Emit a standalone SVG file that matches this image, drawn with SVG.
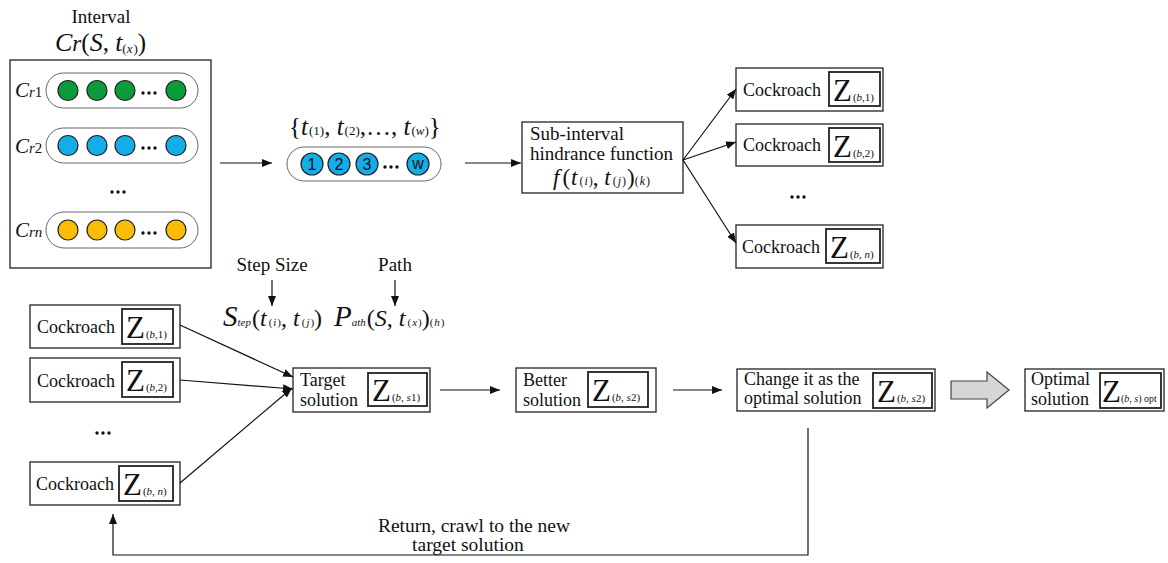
<svg xmlns="http://www.w3.org/2000/svg" width="1168" height="563" viewBox="0 0 1168 563">
  <defs>
    <marker id="arrow" viewBox="0 0 10 8" refX="10" refY="4" markerWidth="10" markerHeight="8" markerUnits="userSpaceOnUse" orient="auto">
      <path d="M0,0 L10,4 L0,8 Z" fill="#111"/>
    </marker>
  </defs>
  <style>
    text { font-family: "Liberation Serif", "Times New Roman", "DejaVu Serif", serif; fill: #111; }
    .lbl { font-size: 18px; }
    .lbl19 { font-size: 19px; }
    .lbl20 { font-size: 19.5px; }
    .box { fill: #fff; stroke: #333; stroke-width: 1.4; }
    .zbox { fill: #fff; stroke: #222; stroke-width: 1.8; }
    .pill { fill: #fff; stroke: #666; stroke-width: 1; }
    .dot { fill: #111; }
    .g { fill: #0a9c3a; stroke: #222; stroke-width: 1.2; }
    .b { fill: #13aeea; stroke: #222; stroke-width: 1.2; }
    .o { fill: #fbbc05; stroke: #222; stroke-width: 1.2; }
    .num { font-family: "Liberation Sans", Arial, sans-serif; font-size: 16px; text-anchor: middle; }
    .z { font-size: 31px; }
    .sub { font-size: 11px; }
    .it { font-style: italic; }
    .edge { fill: none; stroke: #111; stroke-width: 1.2; }
  </style>

  <!-- Interval with the cockroach rows -->
  <g id="interval">
    <text class="lbl19" x="101" y="23" text-anchor="middle">Interval</text>
    <text x="55" y="51" font-size="26"><tspan class="it">C</tspan><tspan class="it" font-size="23">r</tspan><tspan font-size="25">(</tspan><tspan class="it">S</tspan><tspan font-size="25">, </tspan><tspan class="it">t</tspan><tspan font-size="13" dy="2">(</tspan><tspan class="it" font-size="13">x</tspan><tspan font-size="13" dx="1">)</tspan><tspan font-size="25" dy="-2">)</tspan></text>
    <rect class="box" x="10" y="60" width="201" height="208"/>

    <text x="15" y="97"><tspan class="it" font-size="21">C</tspan><tspan class="it" font-size="15">r</tspan><tspan font-size="15">1</tspan></text>
    <rect class="pill" x="46" y="73" width="152" height="35" rx="17.5"/>
    <circle class="g" cx="68" cy="90.5" r="10"/>
    <circle class="g" cx="97" cy="90.5" r="10"/>
    <circle class="g" cx="125" cy="90.5" r="10"/>
    <circle class="dot" cx="143" cy="93" r="1.7"/><circle class="dot" cx="149" cy="93" r="1.7"/><circle class="dot" cx="155" cy="93" r="1.7"/>
    <circle class="g" cx="176" cy="90.5" r="10"/>

    <text x="15" y="153"><tspan class="it" font-size="21">C</tspan><tspan class="it" font-size="15">r</tspan><tspan font-size="15">2</tspan></text>
    <rect class="pill" x="46" y="128" width="152" height="35" rx="17.5"/>
    <circle class="b" cx="68" cy="145.5" r="10"/>
    <circle class="b" cx="97" cy="145.5" r="10"/>
    <circle class="b" cx="125" cy="145.5" r="10"/>
    <circle class="dot" cx="143" cy="148" r="1.7"/><circle class="dot" cx="149" cy="148" r="1.7"/><circle class="dot" cx="155" cy="148" r="1.7"/>
    <circle class="b" cx="176" cy="145.5" r="10"/>

    <circle class="dot" cx="112" cy="192" r="1.7"/><circle class="dot" cx="118" cy="192" r="1.7"/><circle class="dot" cx="124" cy="192" r="1.7"/>

    <text x="15" y="237"><tspan class="it" font-size="21">C</tspan><tspan class="it" font-size="15">rn</tspan></text>
    <rect class="pill" x="46" y="212" width="152" height="36" rx="18"/>
    <circle class="o" cx="68" cy="230" r="10"/>
    <circle class="o" cx="97" cy="230" r="10"/>
    <circle class="o" cx="125" cy="230" r="10"/>
    <circle class="dot" cx="143" cy="233" r="1.7"/><circle class="dot" cx="149" cy="233" r="1.7"/><circle class="dot" cx="155" cy="233" r="1.7"/>
    <circle class="o" cx="176" cy="230" r="10"/>
  </g>

  <!-- Ordered sub-interval set -->
  <g id="subset">
    <text x="289" y="135" font-size="25"><tspan>{</tspan><tspan class="it">t</tspan><tspan font-size="13" dx="1">(1)</tspan><tspan>, </tspan><tspan class="it">t</tspan><tspan font-size="13" dx="1">(2)</tspan><tspan>,…, </tspan><tspan class="it">t</tspan><tspan font-size="13" dx="1">(</tspan><tspan class="it" font-size="13">w</tspan><tspan font-size="13">)</tspan><tspan>}</tspan></text>
    <rect class="pill" x="287" y="147" width="154" height="34" rx="17"/>
    <circle class="b" cx="312" cy="164" r="11"/><text class="num" x="312" y="170">1</text>
    <circle class="b" cx="339" cy="164" r="11"/><text class="num" x="339" y="170">2</text>
    <circle class="b" cx="367" cy="164" r="11"/><text class="num" x="367" y="170">3</text>
    <circle class="dot" cx="385" cy="167" r="1.7"/><circle class="dot" cx="391" cy="167" r="1.7"/><circle class="dot" cx="397" cy="167" r="1.7"/>
    <circle class="b" cx="418" cy="164" r="11"/><text class="num" x="418" y="169">w</text>
  </g>

  <!-- Hindrance function -->
  <g id="hindrance">
    <rect class="box" x="522" y="122" width="161" height="71"/>
    <text class="lbl19" x="530" y="140">Sub-interval</text>
    <text class="lbl19" x="530" y="160">hindrance function</text>
    <text x="553" y="185" font-size="23"><tspan class="it">f</tspan><tspan dx="3">(</tspan><tspan class="it" dx="1">t</tspan><tspan font-size="12" dx="2">(</tspan><tspan class="it" font-size="12" dx="1">i</tspan><tspan font-size="12" dx="1">)</tspan><tspan>, </tspan><tspan class="it">t</tspan><tspan font-size="12" dx="2">(</tspan><tspan class="it" font-size="12" dx="1">j</tspan><tspan font-size="12" dx="1">)</tspan><tspan dx="1">)</tspan><tspan font-size="12">(</tspan><tspan class="it" font-size="12" dx="1">k</tspan><tspan font-size="12" dx="1">)</tspan></text>
  </g>

  <!-- Cockroaches spawned by the hindrance function -->
  <g id="cockroach-r1">
    <rect class="box" x="736" y="68" width="147" height="43"/>
    <text class="lbl" x="743" y="96">Cockroach</text>
    <rect class="zbox" x="829" y="72" width="51" height="34"/>
    <text x="833" y="101"><tspan class="z">Z</tspan><tspan class="sub" dx="1">(</tspan><tspan class="sub it">b</tspan><tspan class="sub">,1)</tspan></text>
  </g>
  <g id="cockroach-r2">
    <rect class="box" x="736" y="124" width="147" height="42"/>
    <text class="lbl" x="743" y="151">Cockroach</text>
    <rect class="zbox" x="829" y="128" width="51" height="34"/>
    <text x="833" y="157"><tspan class="z">Z</tspan><tspan class="sub" dx="1">(</tspan><tspan class="sub it">b</tspan><tspan class="sub">,2)</tspan></text>
  </g>
  <g id="ellipsis-r">
    <circle class="dot" cx="792" cy="197" r="1.7"/><circle class="dot" cx="798" cy="197" r="1.7"/><circle class="dot" cx="804" cy="197" r="1.7"/>
  </g>
  <g id="cockroach-rn">
    <rect class="box" x="736" y="225" width="147" height="43"/>
    <text class="lbl" x="742" y="253">Cockroach</text>
    <rect class="zbox" x="826" y="229" width="54" height="34"/>
    <text x="830" y="258"><tspan class="z">Z</tspan><tspan class="sub" dx="1">(</tspan><tspan class="sub it">b</tspan><tspan class="sub">, </tspan><tspan class="sub it">n</tspan><tspan class="sub">)</tspan></text>
  </g>

  <!-- Step size and path labels -->
  <g id="step">
    <text class="lbl19" x="272" y="271" text-anchor="middle">Step Size</text>
    <text x="223" y="326" font-size="24"><tspan class="it" font-size="29">S</tspan><tspan class="it" font-size="11">tep</tspan><tspan dx="1">(</tspan><tspan class="it">t</tspan><tspan font-size="11" dx="2">(</tspan><tspan class="it" font-size="11" dx="1">i</tspan><tspan font-size="11" dx="1">)</tspan><tspan>, </tspan><tspan class="it">t</tspan><tspan font-size="11" dx="2">(</tspan><tspan class="it" font-size="11" dx="1">j</tspan><tspan font-size="11" dx="1">)</tspan><tspan>)</tspan></text>
  </g>
  <g id="path">
    <text class="lbl19" x="395" y="271" text-anchor="middle">Path</text>
    <text x="334" y="326" font-size="24"><tspan class="it" font-size="29">P</tspan><tspan class="it" font-size="11">ath</tspan><tspan dx="1">(</tspan><tspan class="it">S</tspan><tspan>, </tspan><tspan class="it">t</tspan><tspan font-size="11" dx="2">(</tspan><tspan class="it" font-size="11" dx="1">x</tspan><tspan font-size="11" dx="1">)</tspan><tspan>)</tspan><tspan font-size="11">(</tspan><tspan class="it" font-size="11" dx="1">h</tspan><tspan font-size="11" dx="1">)</tspan></text>
  </g>

  <!-- Cockroaches heading to the target -->
  <g id="cockroach-l1">
    <rect class="box" x="30" y="305" width="150" height="43"/>
    <text class="lbl" x="37" y="333">Cockroach</text>
    <rect class="zbox" x="122" y="309" width="51" height="35"/>
    <text x="126" y="338"><tspan class="z">Z</tspan><tspan class="sub" dx="1">(</tspan><tspan class="sub it">b</tspan><tspan class="sub">,1)</tspan></text>
  </g>
  <g id="cockroach-l2">
    <rect class="box" x="30" y="358" width="150" height="44"/>
    <text class="lbl" x="37" y="387">Cockroach</text>
    <rect class="zbox" x="122" y="362" width="51" height="35"/>
    <text x="126" y="391"><tspan class="z">Z</tspan><tspan class="sub" dx="1">(</tspan><tspan class="sub it">b</tspan><tspan class="sub">,2)</tspan></text>
  </g>
  <g id="ellipsis-l">
    <circle class="dot" cx="97" cy="433" r="1.7"/><circle class="dot" cx="103" cy="433" r="1.7"/><circle class="dot" cx="109" cy="433" r="1.7"/>
  </g>
  <g id="cockroach-ln">
    <rect class="box" x="30" y="462" width="150" height="43"/>
    <text class="lbl" x="36" y="490">Cockroach</text>
    <rect class="zbox" x="119" y="466" width="54" height="35"/>
    <text x="123" y="495"><tspan class="z">Z</tspan><tspan class="sub" dx="1">(</tspan><tspan class="sub it">b</tspan><tspan class="sub">, </tspan><tspan class="sub it">n</tspan><tspan class="sub">)</tspan></text>
  </g>

  <!-- Solution chain -->
  <g id="target">
    <rect class="box" x="293" y="368" width="137" height="44"/>
    <text class="lbl" x="300" y="386">Target</text>
    <text class="lbl" x="300" y="406">solution</text>
    <rect class="zbox" x="368" y="373" width="59" height="33"/>
    <text x="372" y="401"><tspan class="z">Z</tspan><tspan class="sub" dx="1">(</tspan><tspan class="sub it">b</tspan><tspan class="sub">, </tspan><tspan class="sub it">s</tspan><tspan class="sub">1)</tspan></text>
  </g>
  <g id="better">
    <rect class="box" x="516" y="368" width="140" height="44"/>
    <text class="lbl" x="523" y="386">Better</text>
    <text class="lbl" x="523" y="406">solution</text>
    <rect class="zbox" x="588" y="372" width="60" height="35"/>
    <text x="592" y="401"><tspan class="z">Z</tspan><tspan class="sub" dx="1">(</tspan><tspan class="sub it">b</tspan><tspan class="sub">, </tspan><tspan class="sub it">s</tspan><tspan class="sub">2)</tspan></text>
  </g>
  <g id="change">
    <rect class="box" x="737" y="369" width="198" height="42"/>
    <text class="lbl" x="744" y="385">Change it as the</text>
    <text class="lbl" x="744" y="404">optimal solution</text>
    <rect class="zbox" x="873" y="373" width="59" height="35"/>
    <text x="877" y="402"><tspan class="z">Z</tspan><tspan class="sub" dx="1">(</tspan><tspan class="sub it">b</tspan><tspan class="sub">, </tspan><tspan class="sub it">s</tspan><tspan class="sub">2)</tspan></text>
  </g>
  <g id="promote">
    <polygon points="951,381 987,381 987,372 1009,390 987,408 987,399 951,399" fill="#d6d6d6" stroke="#444" stroke-width="1.2"/>
  </g>
  <g id="optimal">
    <rect class="box" x="1025" y="369" width="139" height="42"/>
    <text class="lbl" x="1031" y="385">Optimal</text>
    <text class="lbl" x="1031" y="405">solution</text>
    <rect class="zbox" x="1100" y="373" width="61" height="35"/>
    <text x="1102" y="402"><tspan class="z">Z</tspan><tspan font-size="10">(</tspan><tspan font-size="10" class="it">b</tspan><tspan font-size="10">, </tspan><tspan font-size="10" class="it">s</tspan><tspan font-size="10">) opt</tspan></text>
  </g>

  <g id="return-label">
    <text class="lbl20" x="474" y="532" text-anchor="middle">Return, crawl to the new</text>
    <text class="lbl20" x="468" y="551" text-anchor="middle">target solution</text>
  </g>

  <!-- Connectors -->
  <g id="connectors">
    <line class="edge" x1="220" y1="163" x2="272" y2="163" marker-end="url(#arrow)"/>
    <line class="edge" x1="465" y1="163" x2="521" y2="163" marker-end="url(#arrow)"/>
    <line class="edge" x1="683" y1="160" x2="736" y2="89" marker-end="url(#arrow)"/>
    <line class="edge" x1="683" y1="160" x2="736" y2="142" marker-end="url(#arrow)"/>
    <line class="edge" x1="683" y1="160" x2="736" y2="243" marker-end="url(#arrow)"/>
    <line class="edge" x1="272" y1="280" x2="272" y2="306" marker-end="url(#arrow)"/>
    <line class="edge" x1="395" y1="280" x2="395" y2="306" marker-end="url(#arrow)"/>
    <line class="edge" x1="180" y1="325" x2="293" y2="377" marker-end="url(#arrow)"/>
    <line class="edge" x1="180" y1="380" x2="293" y2="389" marker-end="url(#arrow)"/>
    <line class="edge" x1="180" y1="483" x2="292" y2="388" marker-end="url(#arrow)"/>
    <line class="edge" x1="440" y1="390" x2="500" y2="390" marker-end="url(#arrow)"/>
    <line class="edge" x1="673" y1="390" x2="722" y2="390" marker-end="url(#arrow)"/>
    <polyline class="edge" points="808,428 808,555 113,555 113,514" marker-end="url(#arrow)"/>
  </g>
</svg>
